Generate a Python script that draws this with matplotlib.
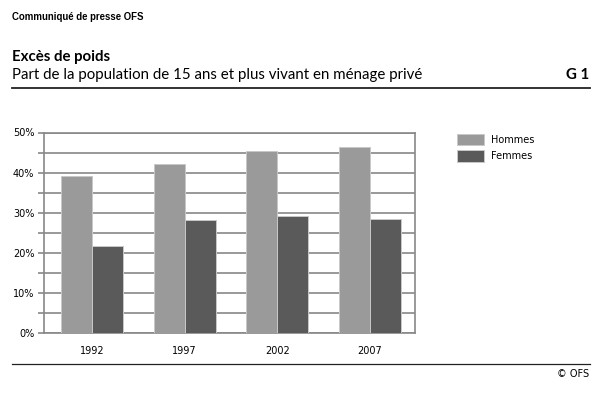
import matplotlib
matplotlib.use("Agg")
import matplotlib.pyplot as plt
import numpy as np
from matplotlib.lines import Line2D
from matplotlib.patches import Patch

years = ["1992", "1997", "2002", "2007"]
hommes = [39.1, 42.2, 45.3, 46.3]
femmes = [21.7, 28.1, 29.1, 28.5]
series_names = ["Hommes", "Femmes"]
yticks = [0, 10, 20, 30, 40, 50]

W, H = 612, 395
fig = plt.figure(figsize=(W / 100, H / 100), dpi=100)

def fx(px):
    return px / W

def fy(py):
    return 1 - py / H

c_h = "#9a9a9a"
c_f = "#5a5a5a"
tick_font = "DejaVu Sans"

ax = fig.add_axes([fx(44), fy(333.3), fx(415) - fx(44), fy(132.5) - fy(333.3)])
x = np.arange(len(years))
bw = 0.334
ax.bar(x - bw / 2, hommes, bw, color=c_h, edgecolor="#c8c8c8", linewidth=0.7, zorder=3)
ax.bar(x + bw / 2, femmes, bw, color=c_f, edgecolor="#c8c8c8", linewidth=0.7, zorder=3)
ax.set_xlim(-0.5 - 0.016, len(years) - 0.5 - 0.016)
ax.set_ylim(0, 50)
ax.set_yticks(np.arange(0, 51, 5))
ax.set_yticklabels([f"{v}%" if v in yticks else "" for v in range(0, 51, 5)],
                   fontsize=7, family=tick_font)
ax.set_xticks(x)
ax.set_xticklabels(years, fontsize=7, family=tick_font)
ax.tick_params(axis="x", length=0, pad=9)
ax.tick_params(axis="y", length=4, width=1.2, color="#888888", pad=3)
ax.grid(axis="y", color="#888888", linewidth=1.2, zorder=0)
for side in ["top", "right", "bottom", "left"]:
    ax.spines[side].set_color("#888888")
    ax.spines[side].set_linewidth(1.2)

# legend
handles = [Patch(facecolor=c_h, edgecolor="#c8c8c8", linewidth=0.7),
           Patch(facecolor=c_f, edgecolor="#c8c8c8", linewidth=0.7)]
fig.legend(handles, series_names, loc="upper left",
           bbox_to_anchor=(fx(448), fy(125)), frameon=False,
           prop={"family": tick_font, "size": 7},
           handlelength=2.8, handleheight=1.4, handletextpad=0.7, labelspacing=0.55)

# header texts
fig.text(fx(12), fy(17), "Communiqué de presse OFS", fontsize=6.9, fontweight="bold",
         family="Liberation Sans", va="center", ha="left")
fig.text(fx(12), fy(57), "Excès de poids", fontsize=10.8, fontweight="bold",
         family="Lato", va="center", ha="left")
fig.text(fx(12), fy(75), "Part de la population de 15 ans et plus vivant en ménage privé",
         fontsize=10.8, family="Lato", va="center", ha="left")
fig.text(fx(589), fy(75), "G 1", fontsize=10.8, fontweight="bold",
         family="Lato", va="center", ha="right")
fig.add_artist(Line2D([fx(12), fx(590)], [fy(88), fy(88)], color="#222222", linewidth=1.3))
fig.add_artist(Line2D([fx(12), fx(590)], [fy(364), fy(364)], color="#222222", linewidth=0.9))
fig.text(fx(589), fy(374), "© OFS", fontsize=7, family=tick_font,
         va="center", ha="right")

fig.savefig("out.png", dpi=100)
